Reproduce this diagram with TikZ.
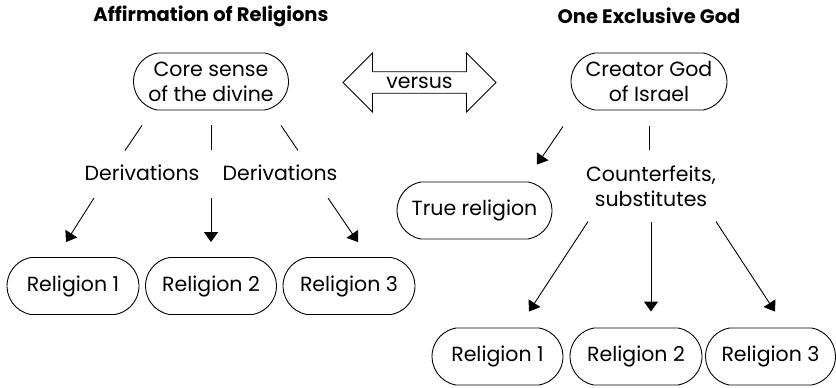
\documentclass[tikz,border=0pt]{standalone}
\usepackage{fontspec}
\setmainfont{Poppins}
\usetikzlibrary{arrows.meta}
\usetikzlibrary{shapes.arrows}
\usetikzlibrary{shapes.misc}

\tikzset{
  pill/.style={draw, line width=.9pt, rounded rectangle, rounded rectangle arc length=160,
    minimum height=57pt, align=center, inner sep=0pt,
    font=\fontsize{20.5}{25}\selectfont},
  plain/.style={align=center, inner sep=0pt, font=\fontsize{20.5}{25}\selectfont},
  heading/.style={inner sep=0pt, font=\fontsize{19.5}{24}\selectfont\bfseries},
  link/.style={line width=.9pt},
  branch/.style={line width=.9pt, -{Triangle[width=14pt,length=10pt]}}
}

\begin{document}
\begin{tikzpicture}[x=1pt,y=-1pt]
  \useasboundingbox (0,0) rectangle (836,388);

  \node (al) [heading] at (211,16) {Affirmation of Religions};
  \node (eg) [heading] at (649,16) {One Exclusive God};

  \node (core) [pill, minimum width=155pt] at (211,81.5) {Core sense\\of the divine};
  \node (cg) [pill, minimum width=156pt] at (649,81.5) {Creator God\\of Israel};
  \node (vs) [draw, line width=.9pt, double arrow, double arrow head extend=11pt,
    minimum height=153pt, minimum width=59pt, inner sep=0pt,
    font=\fontsize{20.5}{25}\selectfont] at (419.5,82.5) {versus};

  \node (dl) [plain] at (142,173) {Derivations};
  \node (dr) [plain] at (280,173) {Derivations};
  \node (cf) [plain] at (651,186) {Counterfeits,\\substitutes};
  \node (tr) [pill, minimum width=155pt] at (474.5,210.5) {True religion};

  \node (rl1) [pill, minimum width=132pt] at (73,286) {Religion 1};
  \node (rl2) [pill, minimum width=131pt] at (211,286) {Religion 2};
  \node (rl3) [pill, minimum width=132pt] at (349,286) {Religion 3};
  \node (rr1) [pill, minimum width=131pt] at (497.5,356.5) {Religion 1};
  \node (rr2) [pill, minimum width=132pt] at (636,356.5) {Religion 2};
  \node (rr3) [pill, minimum width=130pt] at (770.5,356.5) {Religion 3};

  % left side: core -> derivations -> religions
  \path (node cs:name=core,anchor=south) +(-69,15) coordinate (l1i) {};
  \path (node cs:name=core,anchor=south) +(-86,40) coordinate (l1o) {};
  \draw[link] (l1i) -- (l1o);
  \path (node cs:name=core,anchor=south) +(0,15) coordinate (l2i) {};
  \path (node cs:name=core,anchor=south) +(0,40) coordinate (l2o) {};
  \draw[link] (l2i) -- (l2o);
  \path (node cs:name=core,anchor=south) +(70,15) coordinate (l3i) {};
  \path (node cs:name=core,anchor=south) +(87,40) coordinate (l3o) {};
  \draw[link] (l3i) -- (l3o);
  \path (node cs:name=rl1,anchor=north) +(21,-59) coordinate (a1i) {};
  \path (node cs:name=rl1,anchor=north) +(-7,-15) coordinate (a1o) {};
  \draw[branch] (a1i) -- (a1o);
  \path (node cs:name=rl2,anchor=north) +(0,-59) coordinate (a2i) {};
  \path (node cs:name=rl2,anchor=north) +(0,-15) coordinate (a2o) {};
  \draw[branch] (a2i) -- (a2o);
  \path (node cs:name=rl3,anchor=north) +(-21,-59) coordinate (a3i) {};
  \path (node cs:name=rl3,anchor=north) +(9,-15) coordinate (a3o) {};
  \draw[branch] (a3i) -- (a3o);

  % right side: creator -> true religion, counterfeits -> religions
  \path (node cs:name=cg,anchor=south) +(-86,16) coordinate (ti) {};
  \path (node cs:name=tr,anchor=north) +(62.5,-17) coordinate (to) {};
  \draw[branch] (ti) -- (to);
  \path (node cs:name=cg,anchor=south) +(0,16) coordinate (ci) {};
  \path (node cs:name=cg,anchor=south) +(0,40) coordinate (co) {};
  \draw[link] (ci) -- (co);
  \path (node cs:name=rr1,anchor=north) +(90.5,-106) coordinate (b1i) {};
  \path (node cs:name=rr1,anchor=north) +(31.5,-16) coordinate (b1o) {};
  \draw[branch] (b1i) -- (b1o);
  \path (node cs:name=rr2,anchor=north) +(15,-106) coordinate (b2i) {};
  \path (node cs:name=rr2,anchor=north) +(15,-16) coordinate (b2o) {};
  \draw[branch] (b2i) -- (b2o);
  \path (node cs:name=rr3,anchor=north) +(-54.5,-106) coordinate (b3i) {};
  \path (node cs:name=rr3,anchor=north) +(4.5,-16) coordinate (b3o) {};
  \draw[branch] (b3i) -- (b3o);
\end{tikzpicture}
\end{document}
